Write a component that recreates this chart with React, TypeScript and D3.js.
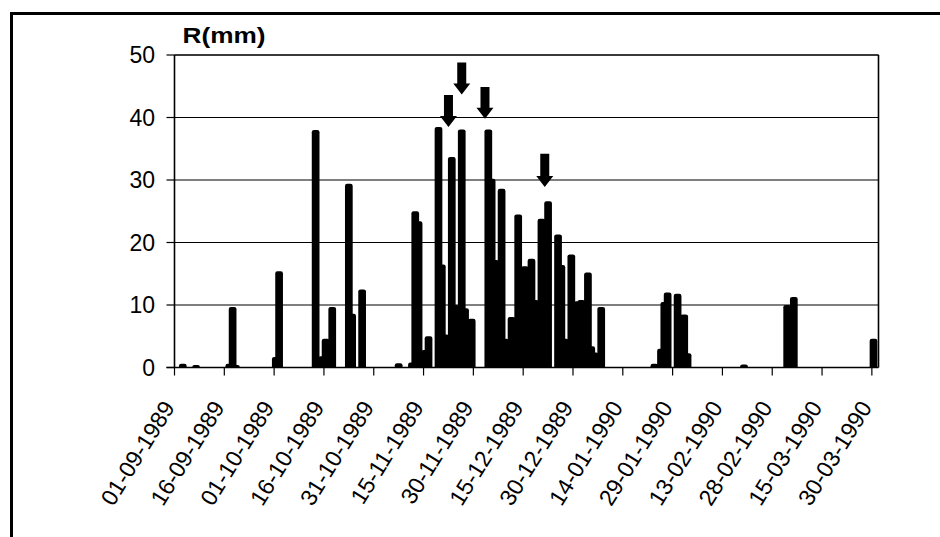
import { useEffect } from 'react';
import * as d3 from 'd3';

const W = 940;
const H = 537;
const margin = { top: 55, left: 174.5, right: 61.5, bottom: 169.5 };

// rainy days (dd-mm-yyyy) and daily rainfall in mm
const rainDates = [
  '03-09-1989', '07-09-1989', '17-09-1989', '18-09-1989', '19-09-1989',
  '01-10-1989', '02-10-1989', '13-10-1989', '15-10-1989', '16-10-1989',
  '18-10-1989', '23-10-1989', '24-10-1989', '27-10-1989',
  '07-11-1989', '11-11-1989', '12-11-1989', '13-11-1989', '15-11-1989',
  '16-11-1989', '19-11-1989', '20-11-1989', '21-11-1989', '23-11-1989',
  '24-11-1989', '26-11-1989', '27-11-1989', '29-11-1989',
  '04-12-1989', '05-12-1989', '06-12-1989', '08-12-1989', '09-12-1989',
  '11-12-1989', '13-12-1989', '14-12-1989', '15-12-1989', '17-12-1989',
  '18-12-1989', '20-12-1989', '22-12-1989', '25-12-1989', '26-12-1989',
  '27-12-1989', '29-12-1989', '31-12-1989',
  '01-01-1990', '03-01-1990', '04-01-1990', '05-01-1990', '07-01-1990',
  '23-01-1990', '25-01-1990', '26-01-1990', '27-01-1990', '30-01-1990',
  '01-02-1990', '02-02-1990', '19-02-1990',
  '04-03-1990', '06-03-1990', '30-03-1990',
];
const rainValues = [
  0.6, 0.4, 0.6, 9.7, 0.4,
  1.7, 15.4, 38.0, 1.8, 4.6,
  9.7, 29.4, 8.6, 12.5,
  0.7, 0.8, 25.0, 23.4, 2.8,
  5.0, 38.5, 16.5, 5.3, 33.7,
  10.0, 38.1, 9.5, 7.8,
  38.1, 30.2, 17.2, 28.6, 4.6,
  8.1, 24.5, 5.7, 16.2, 17.4,
  10.8, 23.8, 26.6, 21.3, 16.4,
  4.6, 18.1, 10.6,
  10.8, 15.2, 3.4, 2.4, 9.7,
  0.6, 3.0, 10.5, 12.0, 11.8,
  8.5, 2.3, 0.5,
  10.0, 11.3, 4.6,
];

// arrows marking events: date, tip and tail level in mm
const arrowDates = ['22-11-1989', '26-11-1989', '03-12-1989', '21-12-1989'];
const arrowTips = [38.5, 43.7, 39.8, 28.9];
const arrowTails = [43.6, 48.8, 44.9, 34.2];

const xTickLabels = [
  '01-09-1989', '16-09-1989', '01-10-1989', '16-10-1989', '31-10-1989',
  '15-11-1989', '30-11-1989', '15-12-1989', '30-12-1989', '14-01-1990',
  '29-01-1990', '13-02-1990', '28-02-1990', '15-03-1990', '30-03-1990',
];
const yTicks = [0, 10, 20, 30, 40, 50];

const parse = d3.utcParse('%d-%m-%Y');
const fmt = d3.utcFormat('%d-%m-%Y');

const days = d3.utcDay.range(new Date(Date.UTC(1989, 8, 1)), new Date(Date.UTC(1990, 3, 1)));

const x = d3
  .scaleBand<string>()
  .domain(days.map((d) => fmt(d)))
  .range([margin.left, W - margin.right])
  .padding(0);

const y = d3
  .scaleLinear()
  .domain([0, 50])
  .range([H - margin.bottom, margin.top]);

const font = '"Liberation Sans", Arial, sans-serif';

function App() {
  useEffect(() => {
    document.body.style.margin = '0';
  }, []);

  const step = x.bandwidth();
  const x0 = margin.left;
  const x1 = W - margin.right;
  const yb = y(0);
  const sw = 4.4; // bar outline

  const bars = rainDates.map((d, i) => ({ key: fmt(parse(d) as Date), v: rainValues[i] }));

  return (
    <svg width={W} height={H} style={{ display: 'block', background: '#fff' }}>
      <defs>
        <clipPath id="plot">
          <rect x={x0} y={margin.top - 10} width={x1 - x0} height={yb - margin.top + 10} />
        </clipPath>
      </defs>

      {/* outer frame */}
      <path d={`M11.5,${H} V13.5 H${W}`} fill="none" stroke="#000" strokeWidth={3} />

      {/* gridlines */}
      {yTicks.slice(1).map((t) => (
        <line key={t} x1={x0} x2={x1} y1={y(t)} y2={y(t)} stroke="#000" strokeWidth={1.2} />
      ))}

      {/* bars */}
      <g clipPath="url(#plot)">
        {bars.map((b) => (
          <rect
            key={b.key}
            x={x(b.key) as number}
            y={y(b.v) + sw / 2}
            width={step}
            height={Math.max(0, yb - y(b.v) - sw / 2)}
            fill="#000"
            stroke="#000"
            strokeWidth={sw}
            strokeLinejoin="round"
          />
        ))}
      </g>

      {/* arrows */}
      {arrowDates.map((d, i) => {
        const cx = (x(d) as number) + step / 2;
        const tip = y(arrowTips[i]);
        const tail = y(arrowTails[i]);
        const hh = 11;
        const hs = 4.5;
        const hw = 8.5;
        return (
          <path
            key={d}
            d={`M${cx - hs},${tail} H${cx + hs} V${tip - hh} H${cx + hw} L${cx},${tip} L${cx - hw},${tip - hh} H${cx - hs} Z`}
            fill="#000"
          />
        );
      })}

      {/* plot border and axes */}
      <line x1={x0} x2={x1} y1={margin.top} y2={margin.top} stroke="#222" strokeWidth={1.6} />
      <line x1={x1} x2={x1} y1={margin.top} y2={yb} stroke="#000" strokeWidth={1.6} />
      <line x1={x0} x2={x0} y1={margin.top} y2={yb} stroke="#000" strokeWidth={1.6} />
      <line x1={x0 - 8} x2={x1} y1={yb} y2={yb} stroke="#000" strokeWidth={1.6} />

      {yTicks.map((t) => (
        <g key={t}>
          <line x1={x0 - 8} x2={x0} y1={y(t)} y2={y(t)} stroke="#000" strokeWidth={1.2} />
          <text
            x={155}
            y={y(t)}
            dy="0.36em"
            textAnchor="end"
            fontFamily={font}
            fontSize={23}
            fill="#000"
          >
            {t}
          </text>
        </g>
      ))}

      {xTickLabels.map((l) => {
        const tx = x(l) as number;
        return (
          <g key={l}>
            <line x1={tx} x2={tx} y1={yb} y2={yb + 8} stroke="#000" strokeWidth={1.2} />
            <text
              transform={`translate(${tx + 1},${yb + 40}) rotate(-58)`}
              textAnchor="end"
              fontFamily={font}
              fontSize={23}
              fill="#000"
            >
              {l}
            </text>
          </g>
        );
      })}

      <text
        x={182.5}
        y={43}
        fontFamily={font}
        fontSize={22}
        fontWeight="bold"
        textLength={83}
        lengthAdjust="spacingAndGlyphs"
        fill="#000"
      >
        R(mm)
      </text>
    </svg>
  );
}

export default App;
